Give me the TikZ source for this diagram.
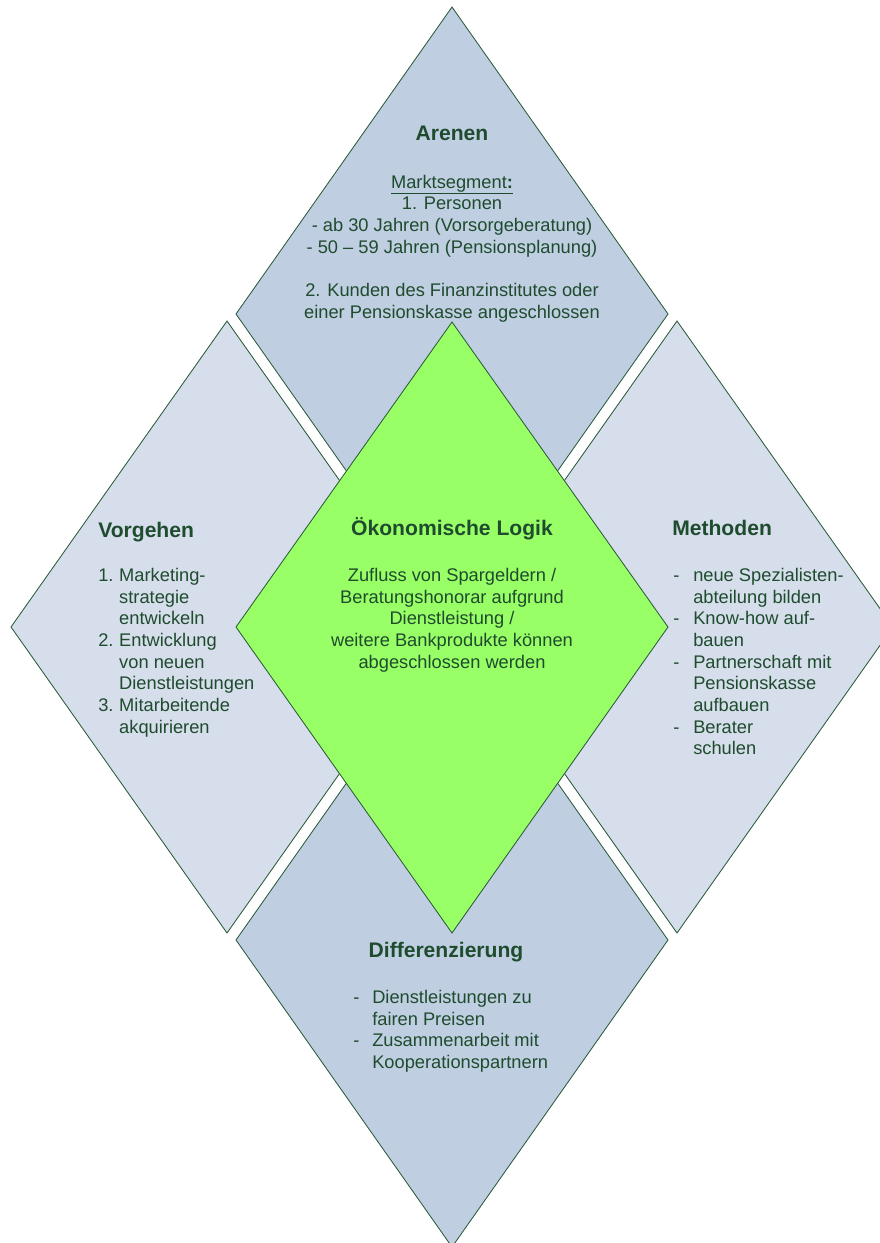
\documentclass[tikz,border=0pt]{standalone}
\usepackage{fontspec}
\setmainfont{Liberation Sans}

\definecolor{arenablue}{HTML}{BFCFE1}
\definecolor{sideblue}{HTML}{D5DEEA}
\definecolor{logicgreen}{HTML}{99FF66}
\definecolor{darkline}{HTML}{2A5A3A}
\definecolor{textgreen}{HTML}{1F4B2E}

\tikzset{
  raute/.style={draw=darkline, line width=0.6pt, line join=miter},
  titel/.style={font=\fontsize{15}{17}\selectfont\bfseries, text=textgreen, inner sep=0pt},
  inhalt/.style={font=\fontsize{13}{15.4}\selectfont, text=textgreen, inner sep=0pt},
}

\begin{document}
\begin{tikzpicture}[x=0.025cm, y=-0.025cm]
      \useasboundingbox (0,0) rectangle (880,1243);
      \clip (0,0) rectangle (880,1243);

      % Arenen (oben)
      \draw[raute, fill=arenablue] (452,7) -- (668,314) -- (452,621) -- (236,314) -- cycle;
      % Vorgehen (links)
      \draw[raute, fill=sideblue] (227,321) -- (443,627) -- (227,933) -- (11,627) -- cycle;
      % Methoden (rechts)
      \draw[raute, fill=sideblue] (677,321) -- (893,627) -- (677,933) -- (461,627) -- cycle;
      % Differenzierung (unten)
      \draw[raute, fill=arenablue] (452,633) -- (668,940) -- (452,1247) -- (236,940) -- cycle;
      % Oekonomische Logik (Mitte)
      \draw[raute, fill=logicgreen] (452,322) -- (668,627) -- (452,933) -- (236,627) -- cycle;

      % Texte oben
      \node[titel, anchor=base] (arenen) at (452,140) {Arenen};
      \node[inhalt, anchor=base] (arenentext) at (452,188)
        {\begin{tabular}[t]{@{}c@{}}
          \underline{Marktsegment\textbf{:}}\\
          1. Personen\\
          - ab 30 Jahren (Vorsorgeberatung)\\
          - 50 – 59 Jahren (Pensionsplanung)\\
          \\
          2. Kunden des Finanzinstitutes oder\\
          einer Pensionskasse angeschlossen
        \end{tabular}};

      % Texte links
      \node[titel, anchor=base west] (vorgehen) at (98,537.5) {Vorgehen};
      \node[inhalt, anchor=base west] (vorgehentext) at (98,581.5)
        {\begin{tabular}[t]{@{}p{14.9pt}@{}l@{}}
          1. & Marketing-\\
             & strategie\\
             & entwickeln\\
          2. & Entwicklung\\
             & von neuen\\
             & Dienstleistungen\\
          3. & Mitarbeitende\\
             & akquirieren
        \end{tabular}};

      % Texte Mitte
      \node[titel, anchor=base] (logik) at (452,535.5) {Ökonomische Logik};
      \node[inhalt, anchor=base] (logiktext) at (452,581.5)
        {\begin{tabular}[t]{@{}c@{}}
          Zufluss von Spargeldern /\\
          Beratungshonorar aufgrund\\
          Dienstleistung /\\
          weitere Bankprodukte können\\
          abgeschlossen werden
        \end{tabular}};

      % Texte rechts
      \node[titel, anchor=base west] (methoden) at (672,535.5) {Methoden};
      \node[inhalt, anchor=base west] (methodentext) at (673,581.5)
        {\begin{tabular}[t]{@{}p{14.2pt}@{}l@{}}
          - & neue Spezialisten-\\
            & abteilung bilden\\
          - & Know-how auf-\\
            & bauen\\
          - & Partnerschaft mit\\
            & Pensionskasse\\
            & aufbauen\\
          - & Berater\\
            & schulen
        \end{tabular}};

      % Texte unten
      \node[titel, anchor=base] (differenzierung) at (446,957.5) {Differenzierung};
      \node[inhalt, anchor=base west] (differenzierungtext) at (353,1003.5)
        {\begin{tabular}[t]{@{}p{13.5pt}@{}l@{}}
          - & Dienstleistungen zu\\
            & fairen Preisen\\
          - & Zusammenarbeit mit\\
            & Kooperationspartnern
        \end{tabular}};
\end{tikzpicture}
\end{document}
